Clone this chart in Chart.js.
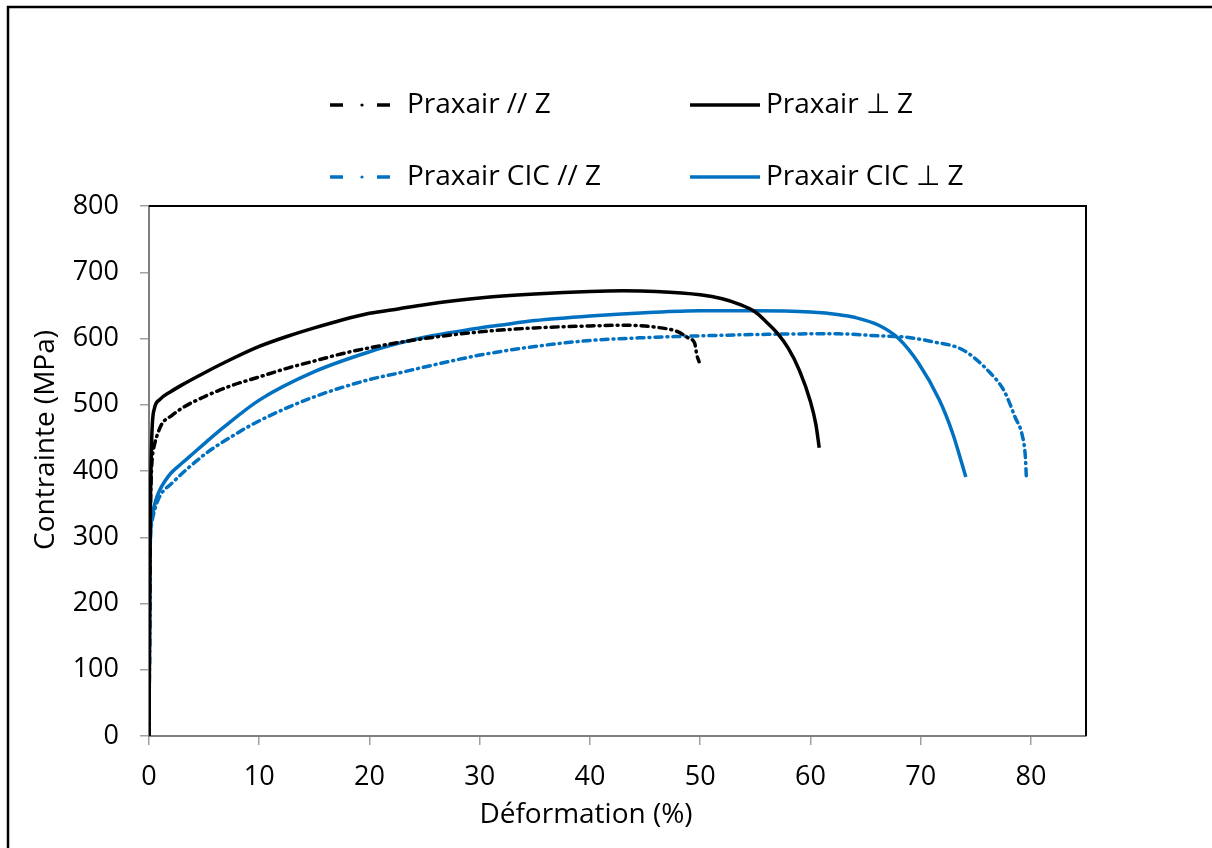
<!DOCTYPE html>
<html>
<head>
<meta charset="utf-8">
<script src="https://cdn.jsdelivr.net/npm/chart.js@4.4.1/dist/chart.umd.min.js"></script>
<style>
  html, body { margin: 0; padding: 0; background: #fff; }
  #wrap { position: relative; width: 1212px; height: 848px; }
</style>
</head>
<body>
<div id="wrap"><canvas id="c" width="1212" height="848"></canvas></div>
<script>
// ---- Data ----
const seriesNames = ["Praxair // Z", "Praxair \u22A5 Z", "Praxair CIC // Z", "Praxair CIC \u22A5 Z"];

const strainParZ = [0, 0.05, 0.1, 0.2, 0.3, 0.5, 0.8, 1.2, 2, 3, 5, 7.5, 10, 12.5, 15, 17.5, 20, 22.7, 25, 30, 35, 40, 43, 46, 48, 49, 49.5, 49.7, 49.9];
const stressParZ = [0, 150, 300, 390, 420, 440, 457, 472, 483, 495, 512, 529, 542, 555, 566, 577, 586, 594, 600, 610, 616, 619, 620, 617, 610, 600, 593, 575, 565];

const strainPerpZ = [0, 0.05, 0.1, 0.2, 0.3, 0.5, 1, 2, 3, 5, 7.5, 10, 12.5, 15, 17.5, 20, 22.7, 25, 30, 35, 40, 43, 46, 50, 52, 53.5, 55, 56, 57, 58, 59, 60, 60.5, 60.8];
const stressPerpZ = [0, 150, 300, 420, 470, 495, 508, 520, 530, 548, 569, 588, 603, 616, 628, 638, 645, 651, 661, 667, 671, 672, 671, 666, 660, 652, 640, 625, 608, 585, 552, 505, 470, 435];

const strainCicParZ = [0, 0.05, 0.1, 0.2, 0.5, 0.95, 2.1, 5.2, 7.5, 9.8, 15, 20, 22.7, 25, 30, 31.8, 35, 40, 44.5, 50, 55, 60, 62.6, 66.2, 68.7, 71.1, 73.8, 76.2, 77.6, 78.6, 79.2, 79.5, 79.6];
const stressCicParZ = [0, 150, 280, 315, 340, 361, 382, 427, 452, 474, 512, 538, 548, 557, 575, 580, 588, 597, 601, 604, 606, 607, 607, 604, 602, 595, 583, 550, 520, 480, 455, 421, 386];

const strainCicPerpZ = [0, 0.05, 0.1, 0.3, 0.6, 1, 1.5, 2, 3, 3.7, 5, 6.7, 10, 15, 20, 22.7, 25, 30, 31.8, 35, 40, 45, 50, 55, 60, 62.6, 64, 66.2, 68, 69.8, 71.7, 72.9, 74.1];
const stressCicPerpZ = [0, 150, 280, 332, 355, 372, 386, 397, 412, 422, 441, 465, 507, 550, 580, 593, 602, 616, 620, 627, 634, 639, 642, 642, 640, 636, 632, 620, 600, 563, 507, 457, 391];

const xTickMin = 0, xTickMax = 85, xStep = 10;
const yTickMin = 0, yTickMax = 800, yStep = 100;
const xTitle = "Déformation (%)";
const yTitle = "Contrainte (MPa)";

// ---- Build ----
const pts = (xs, ys) => xs.map((x, i) => ({ x: x, y: ys[i] }));
const BLUE = '#0070C0';
const FONT = '"Open Sans", Lato, sans-serif';
const DASHDOT = [7, 5, 1, 5];

const datasets = [
  { label: seriesNames[0], data: pts(strainParZ, stressParZ), borderColor: '#000', borderWidth: 3.5, borderDash: DASHDOT, borderCapStyle: 'round' },
  { label: seriesNames[1], data: pts(strainPerpZ, stressPerpZ), borderColor: '#000', borderWidth: 3.5 },
  { label: seriesNames[2], data: pts(strainCicParZ, stressCicParZ), borderColor: BLUE, borderWidth: 3.5, borderDash: DASHDOT, borderCapStyle: 'round' },
  { label: seriesNames[3], data: pts(strainCicPerpZ, stressCicPerpZ), borderColor: BLUE, borderWidth: 3.5 }
].map(d => Object.assign({ showLine: true, pointRadius: 0, pointHoverRadius: 0, cubicInterpolationMode: 'monotone', fill: false }, d));

const decor = {
  id: 'decor',
  afterDraw(chart) {
    const ctx = chart.ctx, ca = chart.chartArea;
    ctx.save();
    // plot area top/right border
    ctx.strokeStyle = '#000'; ctx.lineWidth = 2;
    ctx.beginPath();
    ctx.moveTo(ca.left, ca.top); ctx.lineTo(ca.right, ca.top); ctx.lineTo(ca.right, ca.bottom);
    ctx.stroke();
    // outer frame
    ctx.lineWidth = 2.5;
    ctx.beginPath();
    ctx.moveTo(8, 848); ctx.lineTo(8, 7); ctx.lineTo(1212, 7);
    ctx.stroke();
    // axis titles
    ctx.fillStyle = '#000';
    ctx.font = '28px ' + FONT;
    ctx.textAlign = 'center'; ctx.textBaseline = 'middle';
    ctx.fillText(xTitle, 586, 815);
    ctx.save();
    ctx.translate(46, 440); ctx.rotate(-Math.PI / 2);
    ctx.fillText(yTitle, 0, 0);
    ctx.restore();
    // legend
    const items = [
      { ds: 0, sx: 330, ex: 390, tx: 407, y: 105 },
      { ds: 1, sx: 690, ex: 760, tx: 766, y: 105 },
      { ds: 2, sx: 330, ex: 390, tx: 407, y: 177 },
      { ds: 3, sx: 690, ex: 760, tx: 766, y: 177 }
    ];
    items.forEach(it => {
      const d = chart.data.datasets[it.ds];
      ctx.strokeStyle = d.borderColor; ctx.fillStyle = d.borderColor;
      ctx.lineWidth = 3.5; ctx.setLineDash([]);
      if (d.borderDash) {
        ctx.lineCap = 'butt';
        ctx.beginPath();
        ctx.moveTo(it.sx, it.y); ctx.lineTo(it.sx + 13, it.y);
        ctx.moveTo(it.ex - 13, it.y); ctx.lineTo(it.ex, it.y);
        ctx.stroke();
        ctx.beginPath(); ctx.arc((it.sx + it.ex) / 2 + 2, it.y, 1.6, 0, Math.PI * 2); ctx.fill();
      } else {
        ctx.beginPath(); ctx.moveTo(it.sx, it.y); ctx.lineTo(it.ex, it.y); ctx.stroke();
      }
      ctx.fillStyle = '#000';
      ctx.textAlign = 'left'; ctx.textBaseline = 'middle';
      ctx.font = '28px ' + FONT;
      ctx.fillText(d.label, it.tx, it.y);
    });
    ctx.restore();
  }
};

new Chart(document.getElementById('c'), {
  type: 'scatter',
  data: { datasets },
  options: {
    responsive: false,
    animation: false,
    layout: { padding: { left: 0, top: 206, right: 126, bottom: 42 } },
    plugins: { legend: { display: false }, tooltip: { enabled: false } },
    scales: {
      x: {
        type: 'linear', min: xTickMin, max: xTickMax,
        afterFit: s => { s.height = 70; },
        ticks: { stepSize: xStep, includeBounds: false, color: '#000', font: { family: FONT, size: 27 }, padding: 16, maxRotation: 0 },
        grid: { drawOnChartArea: false, drawTicks: true, tickLength: 9, color: '#a0a0a0', lineWidth: 1.5 },
        border: { display: true, color: '#7f7f7f', width: 2 }
      },
      y: {
        type: 'linear', min: yTickMin, max: yTickMax,
        afterFit: s => { s.width = 149; },
        ticks: { stepSize: yStep, color: '#000', font: { family: FONT, size: 27 }, padding: 21 },
        grid: { drawOnChartArea: false, drawTicks: true, tickLength: 9, color: '#a0a0a0', lineWidth: 1.5 },
        border: { display: true, color: '#7f7f7f', width: 2 }
      }
    }
  },
  plugins: [decor]
});
</script>
</body>
</html>
